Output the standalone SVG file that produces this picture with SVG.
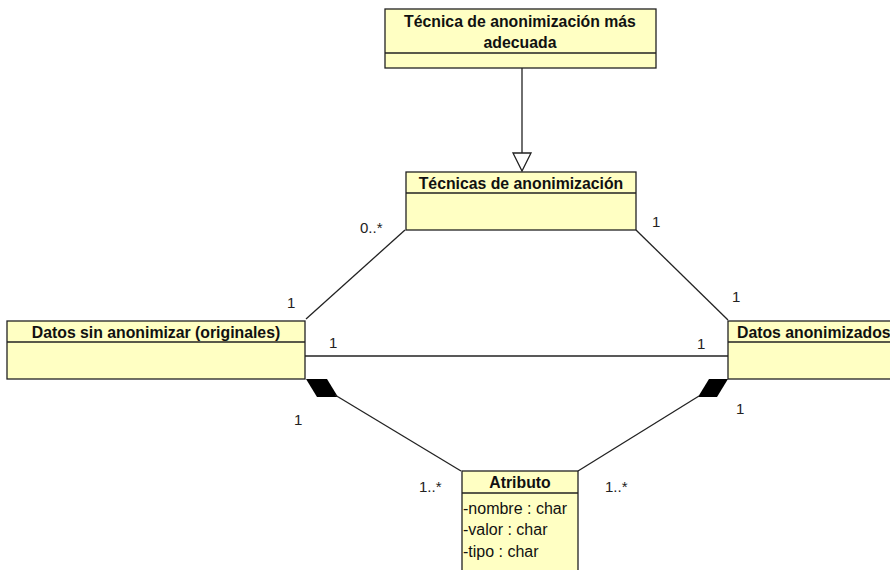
<svg xmlns="http://www.w3.org/2000/svg" width="890" height="570" viewBox="0 0 890 570">
<style>
.box{fill:#FFFFC3;stroke:#222;stroke-width:1.3}
.div{stroke:#222;stroke-width:1.3}
.title{font-family:"Liberation Sans",Arial,sans-serif;font-size:15.8px;font-weight:bold;fill:#111;text-anchor:middle}
.attr{font-family:"Liberation Sans",Arial,sans-serif;font-size:16px;fill:#111}
.lbl{font-family:"Liberation Sans",Arial,sans-serif;font-size:15px;fill:#222}
.ln{stroke:#222;stroke-width:1.3;fill:none}
</style>
<rect width="890" height="570" fill="#fff"/>
<g id="conn">
<line class="ln" x1="522" y1="68" x2="522" y2="153"/>
<polygon points="513,153 531,153 522,171" fill="#fff" stroke="#222" stroke-width="1.3"/>
<line class="ln" x1="405" y1="230" x2="306" y2="319"/>
<line class="ln" x1="636" y1="230" x2="728" y2="320"/>
<line class="ln" x1="305" y1="356" x2="728" y2="356"/>
<polygon points="306,379 327,379 338,397 317,397" fill="#000"/>
<line class="ln" x1="335" y1="395" x2="461" y2="471"/>
<polygon points="709,379 728,379 717,397 698,397" fill="#000"/>
<line class="ln" x1="699" y1="396" x2="578" y2="471"/>
<text class="lbl" x="360" y="233">0..*</text>
<text class="lbl" x="287" y="308">1</text>
<text class="lbl" x="329" y="348">1</text>
<text class="lbl" x="294" y="425">1</text>
<text class="lbl" x="419" y="492">1..*</text>
<text class="lbl" x="652" y="227">1</text>
<text class="lbl" x="732" y="302">1</text>
<text class="lbl" x="697" y="349">1</text>
<text class="lbl" x="736" y="414">1</text>
<text class="lbl" x="605" y="492">1..*</text>
</g>
<g id="tecnica-adecuada">
<rect class="box" x="385" y="9" width="271" height="59"/>
<line class="div" x1="385" y1="53" x2="656" y2="53"/>
<text class="title" x="520" y="27">Técnica de anonimización más</text>
<text class="title" x="520" y="48">adecuada</text>
</g>
<g id="tecnicas">
<rect class="box" x="406" y="172" width="230" height="58"/>
<line class="div" x1="406" y1="193" x2="636" y2="193"/>
<text class="title" x="521" y="189">Técnicas de anonimización</text>
</g>
<g id="datos-sin">
<rect class="box" x="7" y="321" width="298" height="58"/>
<line class="div" x1="7" y1="342" x2="305" y2="342"/>
<text class="title" x="156" y="338">Datos sin anonimizar (originales)</text>
</g>
<g id="datos-anon">
<rect class="box" x="728" y="321" width="172" height="58"/>
<line class="div" x1="728" y1="342" x2="900" y2="342"/>
<text class="title" x="737" y="338" style="text-anchor:start">Datos anonimizados</text>
</g>
<g id="atributo">
<rect class="box" x="462" y="471" width="116" height="105"/>
<line class="div" x1="462" y1="493" x2="578" y2="493"/>
<text class="title" x="520" y="488">Atributo</text>
<text class="attr" x="463" y="514">-nombre : char</text>
<text class="attr" x="463" y="535">-valor : char</text>
<text class="attr" x="463" y="557">-tipo : char</text>
</g>
</svg>
